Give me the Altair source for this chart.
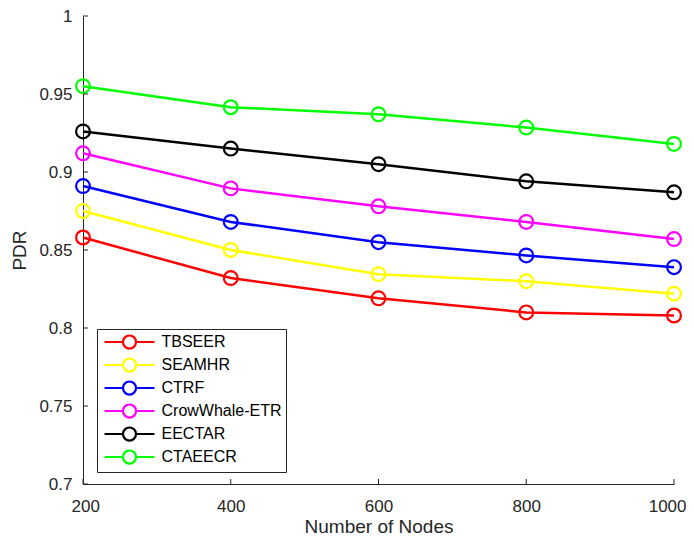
import altair as alt
import pandas as pd

nodes = [200, 400, 600, 800, 1000]
tbseer = [0.858, 0.832, 0.819, 0.810, 0.808]
seamhr = [0.875, 0.850, 0.8345, 0.830, 0.822]
ctrf = [0.891, 0.868, 0.855, 0.8465, 0.839]
crowwhale = [0.912, 0.8895, 0.878, 0.868, 0.857]
eectar = [0.926, 0.915, 0.905, 0.894, 0.887]
ctaeecr = [0.955, 0.9415, 0.937, 0.9285, 0.918]

series_names = ["TBSEER", "SEAMHR", "CTRF", "CrowWhale-ETR", "EECTAR", "CTAEECR"]
series_values = [tbseer, seamhr, ctrf, crowwhale, eectar, ctaeecr]
series_colors = ["#FF0000", "#FFFF00", "#0000FF", "#FF00FF", "#000000", "#00FF00"]

x_ticks = [200, 400, 600, 800, 1000]
y_ticks = [0.7, 0.75, 0.8, 0.85, 0.9, 0.95, 1.0]

rows = []
for name, vals in zip(series_names, series_values):
    for n, v in zip(nodes, vals):
        rows.append({"nodes": n, "pdr": v, "series": name})
df = pd.DataFrame(rows)

W, H = 591, 468
FONT = "Liberation Sans"
AX = "#262626"

xscale = alt.Scale(domain=[200, 1000], nice=False, zero=False)
yscale = alt.Scale(domain=[0.7, 1.0], nice=False, zero=False)

xaxis = alt.Axis(values=x_ticks, format="d", title="Number of Nodes",
                 tickSize=0, grid=False, labelPadding=14, titlePadding=3,
                 labelFlush=True, labelFlushOffset=12)
yaxis = alt.Axis(values=y_ticks, format="~g", title="PDR",
                 tickSize=0, grid=False, labelPadding=11, titlePadding=9)

# symbol size 225 -> unit = 7.5 px; line spans +-25 px, circle r ~6.5 px
legend_symbol = ("M-3.33,0H-0.87M0.87,0H3.33M0.87,0A0.87,0.87,0,1,1,-0.87,0"
                 "A0.87,0.87,0,1,1,0.87,0")

lines = alt.Chart(df).mark_line(
    strokeWidth=2.5,
    point=alt.OverlayMarkDef(shape="circle", filled=False, fill="transparent",
                             size=190, strokeWidth=2.2),
).encode(
    x=alt.X("nodes:Q", scale=xscale, axis=xaxis),
    y=alt.Y("pdr:Q", scale=yscale, axis=yaxis),
    color=alt.Color("series:N",
                    scale=alt.Scale(domain=series_names, range=series_colors),
                    sort=series_names,
                    legend=alt.Legend(title=None, orient="none",
                                      legendX=14, legendY=313,
                                      symbolType=legend_symbol,
                                      symbolSize=225,
                                      symbolStrokeWidth=2.2,
                                      symbolFillColor="transparent",
                                      symbolOffset=19.5,
                                      labelOffset=23,
                                      labelFontSize=16,
                                      labelFont=FONT,
                                      labelColor="#000000",
                                      rowPadding=1,
                                      padding=4,
                                      strokeColor=AX,
                                      fillColor="white",
                                      cornerRadius=0)),
)

xt = alt.Chart(pd.DataFrame({"nodes": x_ticks})).mark_rule(
    color=AX, strokeWidth=1).encode(
    x=alt.X("nodes:Q", scale=xscale, axis=xaxis),
    y=alt.value(H - 5), y2=alt.value(H))

yt = alt.Chart(pd.DataFrame({"pdr": y_ticks})).mark_rule(
    color=AX, strokeWidth=1).encode(
    y=alt.Y("pdr:Q", scale=yscale, axis=yaxis),
    x=alt.value(0), x2=alt.value(5))

chart = alt.layer(lines, xt, yt).properties(
    width=W, height=H,
    autosize="none",
    background="white",
    padding={"left": 75, "top": 8, "right": 12, "bottom": 53},
).configure_view(stroke=None).configure_axis(
    domainColor=AX, domainWidth=1, labelColor=AX, labelFont=FONT,
    labelFontSize=17, titleFont=FONT, titleFontSize=19,
    titleFontWeight="normal", titleColor=AX,
)

chart.save("out.html", embed_options={"renderer": "svg", "actions": False})
